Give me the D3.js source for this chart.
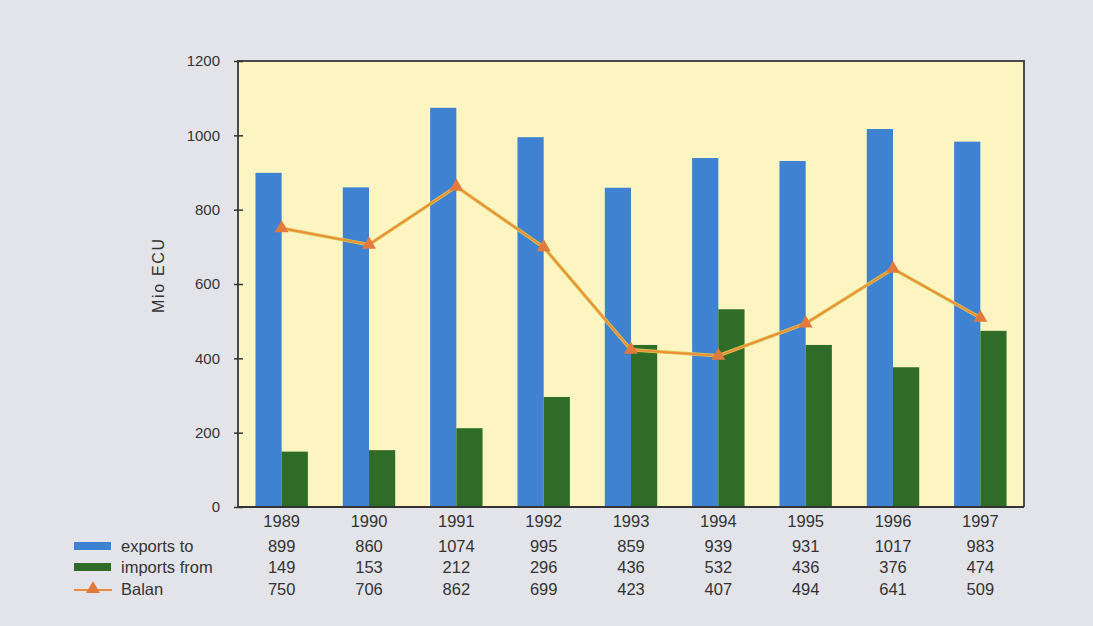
<!DOCTYPE html>
<html>
<head>
<meta charset="utf-8">
<script src="https://cdn.jsdelivr.net/npm/d3@7"></script>
<style>
  body { margin: 0; background: #e3e4e9; }
  svg { display: block; font-family: "Liberation Sans", Arial, sans-serif; }
</style>
</head>
<body>
<div id="chart"></div>
<script>
// values
const years = ["1989", "1990", "1991", "1992", "1993", "1994", "1995", "1996", "1997"];
const exportsTo = [899, 860, 1074, 995, 859, 939, 931, 1017, 983];
const importsFrom = [149, 153, 212, 296, 436, 532, 436, 376, 474];
const balan = [750, 706, 862, 699, 423, 407, 494, 641, 509];
const yTicks = [0, 200, 400, 600, 800, 1000, 1200];

const W = 1093, H = 626;
const margin = {top: 61, right: 69, bottom: 119, left: 238};
const width = W - margin.left - margin.right,
      height = H - margin.top - margin.bottom;

const svg = d3.select("#chart").append("svg")
    .attr("width", W)
    .attr("height", H);

svg.append("rect").attr("width", W).attr("height", H).attr("fill", "#e3e4e9");

const g = svg.append("g")
    .attr("transform", "translate(" + margin.left + "," + margin.top + ")");

let x = d3.scaleBand()
    .domain(years)
    .range([0, width])
    .paddingInner(0.4)
    .paddingOuter(0.2);
// band centre for each year (full category slot)
let xc = d3.scaleBand().domain(years).range([0, width]);
let y = d3.scaleLinear().domain([0, 1200]).range([height, 0]);

// plot background
g.append("rect")
    .attr("width", width)
    .attr("height", height)
    .attr("fill", "#fcf5c2");

// bars
const half = x.bandwidth() / 2;
g.selectAll(".exp")
    .data(years)
    .enter().append("rect")
    .attr("class", "exp")
    .attr("x", (d) => xc(d) + xc.bandwidth() / 2 - half)
    .attr("y", (d, i) => y(exportsTo[i]))
    .attr("width", half)
    .attr("height", (d, i) => height - y(exportsTo[i]))
    .attr("fill", "#3f82d2");

g.selectAll(".imp")
    .data(years)
    .enter().append("rect")
    .attr("class", "imp")
    .attr("x", (d) => xc(d) + xc.bandwidth() / 2)
    .attr("y", (d, i) => y(importsFrom[i]))
    .attr("width", half)
    .attr("height", (d, i) => height - y(importsFrom[i]))
    .attr("fill", "#2f6c28");

// balance line
let line = d3.line()
    .x((d, i) => xc(years[i]) + xc.bandwidth() / 2)
    .y((d) => y(d));

g.append("path")
    .datum(balan)
    .attr("d", line)
    .attr("fill", "none")
    .attr("stroke", "#d8c84a")
    .attr("stroke-width", 3.5);
g.append("path")
    .datum(balan)
    .attr("d", line)
    .attr("fill", "none")
    .attr("stroke", "#ee8a3c")
    .attr("stroke-width", 1.8);

const tri = d3.symbol().type(d3.symbolTriangle).size(85);
g.selectAll(".mark")
    .data(balan)
    .enter().append("path")
    .attr("class", "mark")
    .attr("d", tri)
    .attr("transform", (d, i) => "translate(" + (xc(years[i]) + xc.bandwidth() / 2) + "," + y(d) + ")")
    .attr("fill", "#e27a3e");

// frame (left, top, right, bottom)
g.append("path")
    .attr("d", "M0," + height + "V0H" + width + "V" + height)
    .attr("fill", "none")
    .attr("stroke", "#4a4a4a")
    .attr("stroke-width", 2);
g.append("line")
    .attr("x1", 0).attr("x2", width)
    .attr("y1", height).attr("y2", height)
    .attr("stroke", "#333")
    .attr("stroke-width", 2);

// y axis
let yAxis = d3.axisLeft(y).tickValues(yTicks).tickFormat(d3.format("d"))
    .tickSizeInner(4).tickSizeOuter(0).tickPadding(14);
const ya = g.append("g").call(yAxis);
ya.select(".domain").remove();
ya.selectAll(".tick line")
    .attr("x1", -4).attr("x2", 5)
    .attr("stroke", "#333").attr("stroke-width", 1.5);
ya.selectAll(".tick text")
    .attr("font-size", 15)
    .attr("fill", "#333")
    .attr("font-family", "Liberation Sans, Arial, sans-serif");

svg.append("text")
    .attr("transform", "translate(164,276) rotate(-90)")
    .attr("text-anchor", "middle")
    .attr("font-size", 16)
    .attr("textLength", 74)
    .attr("lengthAdjust", "spacing")
    .attr("fill", "#333")
    .text("Mio ECU");

// data table under the chart
const rowY = [527, 552, 573, 595];
const rows = [years, exportsTo, importsFrom, balan];
rows.forEach(function(r, k) {
    svg.selectAll(".row" + k)
        .data(r)
        .enter().append("text")
        .attr("class", "row" + k)
        .attr("x", (d, i) => margin.left + xc(years[i]) + xc.bandwidth() / 2)
        .attr("y", rowY[k])
        .attr("text-anchor", "middle")
        .attr("font-size", 16.5)
        .attr("fill", "#333")
        .text((d) => d);
});

// legend
const legendNames = ["exports to", "imports from", "Balan"];
const legendColors = ["#3f82d2", "#2f6c28", "#ee8a3c"];
legendNames.forEach(function(name, k) {
    const ly = rowY[k + 1];
    if (k < 2) {
        svg.append("rect")
            .attr("x", 74).attr("y", ly - 10)
            .attr("width", 37).attr("height", 8)
            .attr("fill", legendColors[k]);
    } else {
        svg.append("line")
            .attr("x1", 74).attr("x2", 112)
            .attr("y1", ly - 5).attr("y2", ly - 5)
            .attr("stroke", legendColors[k]).attr("stroke-width", 2);
        svg.append("path")
            .attr("d", tri)
            .attr("transform", "translate(93," + (ly - 6) + ")")
            .attr("fill", "#e27a3e");
    }
    svg.append("text")
        .attr("x", 121).attr("y", ly)
        .attr("font-size", 16.5)
        .attr("fill", "#333")
        .text(name);
});
</script>
</body>
</html>
